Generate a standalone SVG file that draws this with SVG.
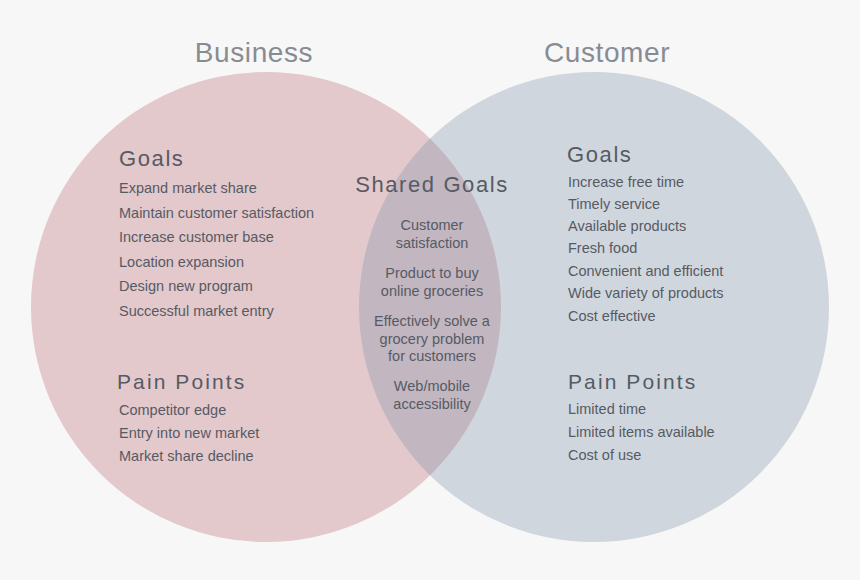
<svg xmlns="http://www.w3.org/2000/svg" width="860" height="580" viewBox="0 0 860 580">
<defs>
<style>
text{font-family:"Liberation Sans",Arial,sans-serif;fill:#565b63}
.title{font-size:28px;fill:#888c92;letter-spacing:0.6px;text-anchor:middle}
.head{font-size:22px;letter-spacing:1.6px}
.pain{font-size:21px;letter-spacing:2.1px}
.item{font-size:14.5px}
.mid{text-anchor:middle}
</style>
<clipPath id="leftClip"><circle cx="266" cy="307" r="235"/></clipPath>
</defs>
<rect width="860" height="580" fill="#f7f7f7"/>
<g id="business">
<circle cx="266" cy="307" r="235" fill="#e3c8cc"/>
</g>
<g id="customer">
<circle cx="594" cy="307" r="235" fill="#d0d6de"/>
</g>
<g id="shared">
<circle cx="594" cy="307" r="235" fill="#c2b6c1" clip-path="url(#leftClip)"/>
</g>
<g id="connectors"></g>
<g id="labels-titles">
<text class="title" x="254" y="62">Business</text>
<text class="title" x="607" y="62">Customer</text>
</g>
<g id="business-goals">
<text class="head" x="119" y="166">Goals</text>
<text class="item" x="119" y="193">Expand market share</text>
<text class="item" x="119" y="217.5">Maintain customer satisfaction</text>
<text class="item" x="119" y="242">Increase customer base</text>
<text class="item" x="119" y="266.5">Location expansion</text>
<text class="item" x="119" y="291">Design new program</text>
<text class="item" x="119" y="316">Successful market entry</text>
</g>
<g id="business-pain">
<text class="pain" x="117" y="389">Pain Points</text>
<text class="item" x="119" y="415">Competitor edge</text>
<text class="item" x="119" y="438">Entry into new market</text>
<text class="item" x="119" y="461">Market share decline</text>
</g>
<g id="shared-goals">
<text class="head mid" x="432" y="192">Shared Goals</text>
<text class="item mid" x="432" y="230">Customer</text>
<text class="item mid" x="432" y="247.5">satisfaction</text>
<text class="item mid" x="432" y="278">Product to buy</text>
<text class="item mid" x="432" y="296">online groceries</text>
<text class="item mid" x="432" y="326">Effectively solve a</text>
<text class="item mid" x="432" y="343.5">grocery problem</text>
<text class="item mid" x="432" y="361">for customers</text>
<text class="item mid" x="432" y="391">Web/mobile</text>
<text class="item mid" x="432" y="408.5">accessibility</text>
</g>
<g id="customer-goals">
<text class="head" x="567" y="162">Goals</text>
<text class="item" x="568" y="187">Increase free time</text>
<text class="item" x="568" y="209">Timely service</text>
<text class="item" x="568" y="231">Available products</text>
<text class="item" x="568" y="253">Fresh food</text>
<text class="item" x="568" y="275.5">Convenient and efficient</text>
<text class="item" x="568" y="298">Wide variety of products</text>
<text class="item" x="568" y="321">Cost effective</text>
</g>
<g id="customer-pain">
<text class="pain" x="568" y="389">Pain Points</text>
<text class="item" x="568" y="414">Limited time</text>
<text class="item" x="568" y="437">Limited items available</text>
<text class="item" x="568" y="460">Cost of use</text>
</g>
</svg>
